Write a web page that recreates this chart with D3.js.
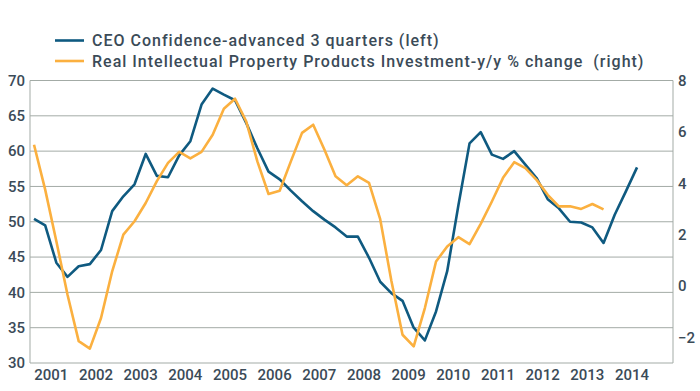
<!DOCTYPE html>
<html><head><meta charset="utf-8">
<script src="https://cdn.jsdelivr.net/npm/d3@7"></script>
<style>
html,body{margin:0;padding:0;background:#fff;}
text{font-family:Roboto,"Noto Sans",sans-serif;fill:#3b4b58;}
</style></head>
<body><svg id="c" width="700" height="391"></svg>
<script>
// Quarterly data, 2001Q1 onward
const years = ["2001","2002","2003","2004","2005","2006","2007","2008","2009","2010","2011","2012","2013","2014"];
const ceoConfidence = [50.4,49.5,44.2,42.2,43.7,44.0,46.0,51.5,53.6,55.3,
  59.6,56.5,56.3,59.4,61.4,66.6,68.85,68.0,67.2,64.0,
  60.4,57.1,56.0,54.4,52.9,51.5,50.3,49.2,47.9,47.9,
  44.9,41.5,39.9,38.8,35.0,33.2,37.3,43.0,52.3,61.1,
  62.7,59.5,58.9,60.0,58.1,56.2,53.2,51.9,50.0,49.9,
  49.2,47.0,51.0,54.3,57.7];
const ippInvestment = [5.50,3.75,1.74,-0.34,-2.15,-2.44,-1.25,0.57,2.0,2.52,
  3.23,4.08,4.79,5.22,4.97,5.22,5.89,6.90,7.29,6.41,
  4.85,3.58,3.71,4.85,5.96,6.28,5.31,4.27,3.92,4.27,
  4.01,2.6,0.2,-1.9,-2.35,-0.86,0.95,1.54,1.9,1.63,
  2.42,3.29,4.21,4.82,4.59,4.13,3.55,3.10,3.10,3.0,
  3.19,2.98];
const leftTicks = [30,35,40,45,50,55,60,65,70];
const rightTicks = [-2,0,2,4,6,8];
const seriesNames = ["CEO Confidence-advanced 3 quarters (left)","Real Intellectual Property Products Investment-y/y % change  (right)"];
const colors = ["#0f5a80","#fbb03f"];

const svg = d3.select("#c");
const L = 30, R = 673, T = 80.5, B = 363;
const x = d3.scaleLinear().domain([-0.36, 57.22]).range([L, R]);
const yL = d3.scaleLinear().domain([30, 70]).range([B, T]);
const yR = d3.scaleLinear().domain([-3, 8]).range([B, T]);

// gridlines
svg.append("g").selectAll("line").data(leftTicks).join("line")
  .attr("x1", L).attr("x2", R).attr("y1", d => yL(d)).attr("y2", d => yL(d))
  .attr("stroke", "#a3aba6").attr("stroke-width", 1);

// frame sides
svg.append("line").attr("x1", L).attr("x2", L).attr("y1", T).attr("y2", B).attr("stroke", "#a3aba6");
svg.append("line").attr("x1", R).attr("x2", R).attr("y1", T).attr("y2", B).attr("stroke", "#a3aba6");

// axes
const axL = svg.append("g").attr("transform", `translate(${L},0)`)
  .call(d3.axisLeft(yL).tickValues(leftTicks).tickSize(0).tickPadding(5));
const axR = svg.append("g").attr("transform", `translate(${R},0)`)
  .call(d3.axisRight(yR).tickValues(rightTicks).tickSize(0).tickPadding(5).tickFormat(d3.format("d")));
const xTickVals = years.map((y, k) => 4 * k + 1.5);
const axX = svg.append("g").attr("transform", `translate(0,${B})`)
  .call(d3.axisBottom(x).tickValues(xTickVals).tickSize(0).tickPadding(6).tickFormat((d, i) => years[i]));
[axL, axR, axX].forEach(a => {
  a.select(".domain").remove();
  a.selectAll("text").style("font-size", "15px").style("font-weight", "500").attr("fill", "#3b4b58");
});

// lines
const lineL = d3.line().x((d, i) => x(i)).y(d => yL(d));
const lineR = d3.line().x((d, i) => x(i)).y(d => yR(d));
svg.append("path").datum(ceoConfidence).attr("d", lineL)
  .attr("fill", "none").attr("stroke", colors[0]).attr("stroke-width", 2.6).attr("stroke-linejoin", "round");
svg.append("path").datum(ippInvestment).attr("d", lineR)
  .attr("fill", "none").attr("stroke", colors[1]).attr("stroke-width", 2.6).attr("stroke-linejoin", "round");

// legend
const lg = svg.append("g");
seriesNames.forEach((n, i) => {
  const cy = 40.5 + i * 20.5;
  lg.append("line").attr("x1", 55).attr("x2", 84).attr("y1", cy).attr("y2", cy)
    .attr("stroke", colors[i]).attr("stroke-width", 2.6);
  lg.append("text").attr("x", 92).attr("y", cy).attr("dy", "0.36em")
    .style("font-size", "16px").style("font-weight", "500").style("letter-spacing", "1px")
    .style("white-space", "pre").text(n);
});
</script></body></html>
